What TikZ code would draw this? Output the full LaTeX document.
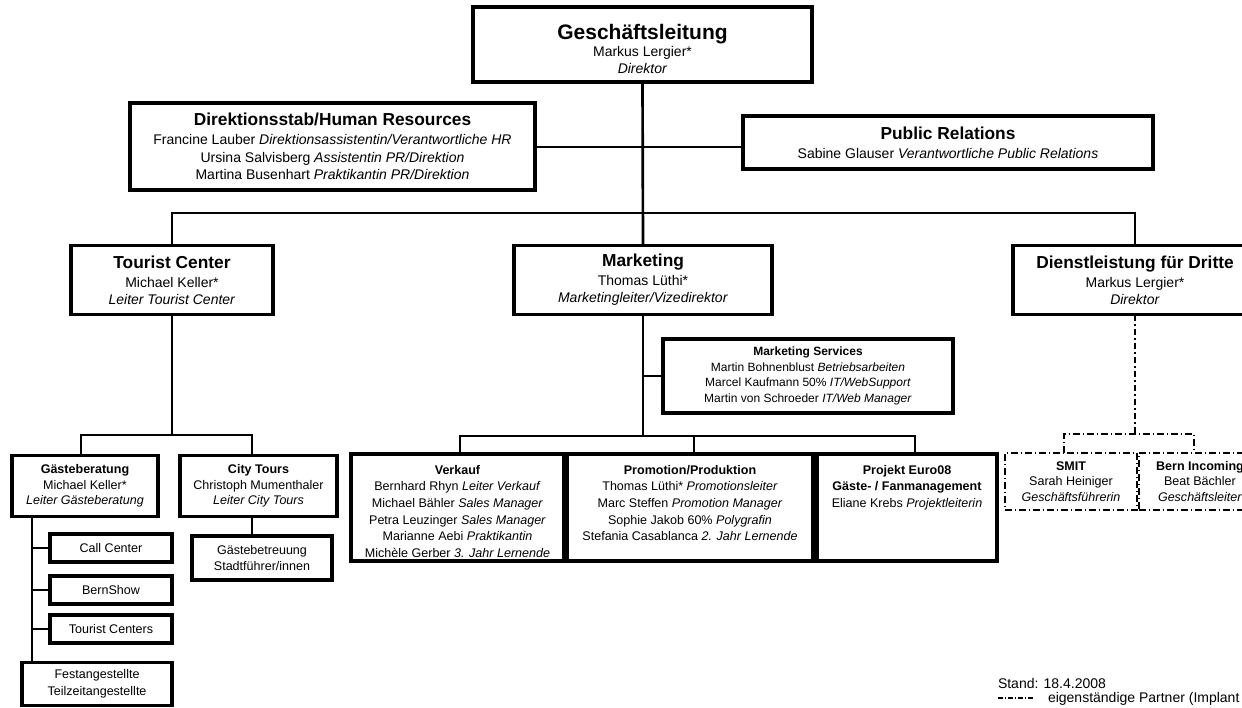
\documentclass[tikz,border=0pt]{standalone}
\usepackage{fontspec}
\setmainfont{Liberation Sans}
\newcommand\ftGL{\fontsize{15.75}{18}\selectfont\bfseries}
\newcommand\ftSec{\fontsize{13}{15}\selectfont\bfseries}
\begin{document}
\begin{tikzpicture}[x=0.75pt,y=-0.75pt,
  bx/.style={draw, line width=2.3pt, inner sep=0pt, outer sep=0pt, align=center},
  wh/.style 2 args={minimum width=#1*0.75pt, minimum height=#2*0.75pt},
  conn/.style={line width=2pt},
  ddash/.style={line width=1.9pt, dash pattern=on 5.2pt off 2pt on 1.3pt off 2pt},
  dbx/.style={draw, ddash, inner sep=0pt, outer sep=0pt, align=center},
  txt/.style={inner sep=0pt, outer sep=0pt, align=center},
  fgl/.style={font=\fontsize{10.5}{12.6}\selectfont},
  fnm/.style={font=\fontsize{10.5}{13}\selectfont},
  fsm/.style={font=\fontsize{9.4}{11.5}\selectfont},
  fvk/.style={font=\fontsize{9.4}{12.5}\selectfont},
  fms/.style={font=\fontsize{9}{11.6}\selectfont},
  flg/.style={font=\fontsize{10.5}{12}\selectfont}
]
\useasboundingbox (0,0) rectangle (1242,707);
\clip (0,0) rectangle (1242,707);

% top level
\node[bx, wh={339}{75}] (gl) at (642.5,44.5) {};
\node[txt, fgl] (glt) at (642.5,49)
  {{\ftGL Geschäftsleitung}\\[-0.3pt] Markus Lergier*\\ \textit{Direktor}};
\node[bx, wh={405}{87}, fnm] (dh) at (332.5,146.5)
  {{\ftSec Direktionsstab/Human Resources}\\[1.2pt]
   Francine Lauber \textit{Direktionsassistentin/Verantwortliche HR}\\
   Ursina Salvisberg \textit{Assistentin PR/Direktion}\\
   Martina Busenhart \textit{Praktikantin PR/Direktion}};
\node[bx, wh={410}{53}, fnm] (pr) at (948,142.5)
  {{\ftSec Public Relations}\\[1.5pt]
   Sabine Glauser \textit{Verantwortliche Public Relations}};

% second level
\node[bx, wh={202}{69}, fnm] (tc) at (172,280)
  {{\ftSec Tourist Center}\\[1.2pt] Michael Keller*\\ \textit{Leiter Tourist Center}};
\node[bx, wh={258}{69}, fnm] (mk) at (643,280)
  {{\ftSec Marketing}\\[1.2pt] Thomas Lüthi*\\ \textit{Marketingleiter/Vizedirektor}};
\node[bx, wh={244}{69}, fnm] (dl) at (1135,280)
  {{\ftSec Dienstleistung für Dritte}\\[1.2pt] Markus Lergier*\\ \textit{Direktor}};

% marketing services
\node[bx, wh={290}{74}, fms] (ms) at (808,376)
  {\textbf{Marketing Services}\\
   Martin Bohnenblust \textit{Betriebsarbeiten}\\
   Marcel Kaufmann 50\% \textit{IT/WebSupport}\\
   Martin von Schroeder \textit{IT/Web Manager}};

% tourist center subtree
\node[bx, wh={146}{61}, fsm] (gb) at (85,486)
  {\textbf{Gästeberatung}\\ Michael Keller*\\ \textit{Leiter Gästeberatung}};
\node[bx, wh={157}{61}, fsm] (ct) at (258.5,486)
  {\textbf{City Tours}\\ Christoph Mumenthaler\\ \textit{Leiter City Tours}};
\node[bx, wh={122}{28}, fsm] (cc) at (111,548) {Call Center};
\node[bx, wh={122}{28}, fsm] (bs) at (111,590) {BernShow};
\node[bx, wh={122}{28}, fsm] (tcs) at (111,629) {Tourist Centers};
\node[bx, wh={150}{43}, fvk] (fe) at (97,684) {Festangestellte\\ Teilzeitangestellte};
\node[bx, wh={140}{44}, fsm] (gs) at (262,558) {Gästebetreuung\\ Stadtführer/innen};

% marketing subtree
\node[bx, wh={213}{107}] (vk) at (457.5,507.5) {};
\node[txt, fvk, anchor=north] (vkt) at (457.5,465)
  {\textbf{Verkauf}\\
   Bernhard Rhyn \textit{Leiter Verkauf}\\
   Michael Bähler \textit{Sales Manager}\\
   Petra Leuzinger \textit{Sales Manager}\\
   Marianne Aebi \textit{Praktikantin}\\
   Michèle Gerber \textit{3. Jahr Lernende}};
\node[bx, wh={246}{107}] (pp) at (690,507.5) {};
\node[txt, fvk, anchor=north] (ppt) at (690,465)
  {\textbf{Promotion/Produktion}\\
   Thomas Lüthi* \textit{Promotionsleiter}\\
   Marc Steffen \textit{Promotion Manager}\\
   Sophie Jakob 60\% \textit{Polygrafin}\\
   Stefania Casablanca \textit{2. Jahr Lernende}};
\node[bx, wh={180}{107}] (pj) at (907,507.5) {};
\node[txt, fvk, anchor=north] (pjt) at (907,465)
  {\textbf{Projekt Euro08}\\
   \textbf{Gäste- / Fanmanagement}\\
   Eliane Krebs \textit{Projektleiterin}};

% partners
\node[dbx, wh={132}{57}, fsm] (sm) at (1071,481.5)
  {\textbf{SMIT}\\ Sarah Heiniger\\ \textit{Geschäftsführerin}};
\node[dbx, wh={122}{57}, fsm] (bi) at (1200,481.5)
  {\textbf{Bern Incoming}\\ Beat Bächler\\ \textit{Geschäftsleiter}};

% connector anchor points
\coordinate (stf) at (643,147);
\coordinate (bus1) at (643,213);
\coordinate (bus2) at (172,435);
\coordinate (bus3) at (643,436);
\coordinate (bus4) at (1135,434);
\coordinate (spine) at (32,0);
\coordinate (gbc) at ([xshift=-3pt]gb.north);
\coordinate (ctc) at ([xshift=-4.9pt]ct.north);
\coordinate (ctd) at ([xshift=-4.9pt]ct.south);
\coordinate (vkc) at ([xshift=1.9pt]vk.north);
\coordinate (ppc) at ([xshift=3pt]pp.north);
\coordinate (pjc) at ([xshift=6pt]pj.north);
\coordinate (smc) at ([xshift=-5.2pt]sm.north);
\coordinate (bic) at ([xshift=-4.5pt]bi.north);

% connectors
\draw[conn] (gl.south) -- (mk.north);
\draw[conn] (dh.east |- stf) -- (pr.west |- stf);
\draw[conn] (tc.north) -- (tc.north |- bus1) -- (dl.north |- bus1) -- (dl.north);

\draw[conn] (tc.south) -- (tc.south |- bus2);
\draw[conn] (gbc) -- (gbc |- bus2) -- (ctc |- bus2) -- (ctc);
\draw[conn] (gb.south -| spine) -- (fe.north -| spine);
\draw[conn] (cc.west -| spine) -- (cc.west);
\draw[conn] (bs.west -| spine) -- (bs.west);
\draw[conn] (tcs.west -| spine) -- (tcs.west);
\draw[conn] (ctd) -- (ctd |- gs.north);

\draw[conn] (mk.south) -- (bus3);
\draw[conn] (mk.south |- ms.west) -- (ms.west);
\draw[conn] (vkc) -- (vkc |- bus3) -- (pjc |- bus3) -- (pjc);
\draw[conn] (ppc) -- (ppc |- bus3);

\draw[ddash] (dl.south) -- (bus4);
\draw[ddash] (smc) -- (smc |- bus4) -- (bic |- bus4) -- (bic);

% legend
\node[txt, flg, anchor=west] (stand) at (998,683) {Stand: 18.4.2008};
\coordinate (lg1) at (998,698);
\coordinate (lg2) at (1034,698);
\draw[line width=0.9pt, dash pattern=on 3.5pt off 1.5pt on 1pt off 1.5pt] (lg1) -- (lg2);
\node[txt, flg, anchor=west] (lgt) at (1048,699) {eigenständige Partner (Implant};
\end{tikzpicture}
\end{document}
